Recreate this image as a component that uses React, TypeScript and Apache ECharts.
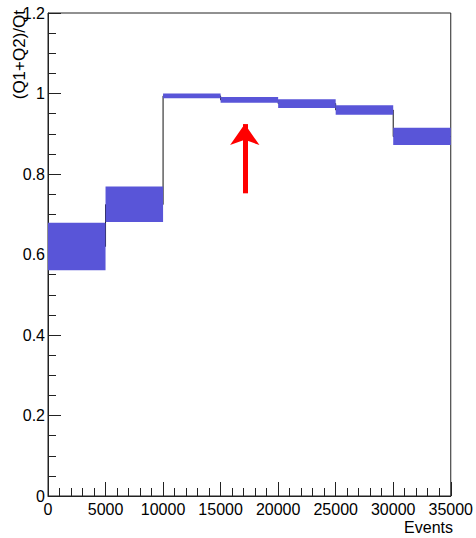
import React, { useEffect, useRef } from "react";
import * as echarts from "echarts";

// Histogram segments (Events)
const segStarts = [0, 5000, 10000, 15000, 20000, 25000, 30000];
const segEnds = [5000, 10000, 15000, 20000, 25000, 30000, 35000];
// Spread of the blue band (error bars) per segment
const bandLow = [0.561, 0.681, 0.988, 0.977, 0.964, 0.947, 0.872];
const bandHigh = [0.679, 0.769, 1.0, 0.991, 0.986, 0.971, 0.915];
// Mean value of (Q1+Q2)/Qt per segment (black histogram line)
const meanValue = [0.62, 0.724, 0.994, 0.984, 0.975, 0.959, 0.893];

// Axis ranges
const xMin = 0;
const xMax = 35000;
const xStep = 5000;
const yMin = 0;
const yMax = 1.2;
const yStep = 0.2;

// Red arrow annotation (data coordinates)
const arrowX = 17100;
const arrowFrom = 0.752;
const arrowTo = 0.924;

const FONT = "'Liberation Sans', Arial, Helvetica, sans-serif";
const BAND_COLOR = "#5955d8";
const AXIS_COLOR = "#222";

export default function App() {
  const ref = useRef<HTMLDivElement>(null);

  useEffect(() => {
    if (!ref.current) return;
    const chart = echarts.init(ref.current, undefined, { renderer: "svg" });

    const bandData = segStarts.map((s, i) => [s, segEnds[i], bandLow[i], bandHigh[i]]);
    const stepData: number[][] = [];
    segStarts.forEach((s, i) => {
      stepData.push([s, meanValue[i]]);
      stepData.push([segEnds[i], meanValue[i]]);
    });

    chart.setOption({
      animation: false,
      grid: {
        left: 48,
        right: 23,
        top: 13,
        bottom: 42,
        show: true,
        borderColor: AXIS_COLOR,
        borderWidth: 1,
        backgroundColor: "transparent",
      },
      xAxis: {
        type: "value",
        min: xMin,
        max: xMax,
        interval: xStep,
        axisLine: { show: true, onZero: false, lineStyle: { color: AXIS_COLOR, width: 1 } },
        axisTick: { show: true, inside: true, length: 14, lineStyle: { color: AXIS_COLOR } },
        minorTick: { show: true, splitNumber: 5, length: 8, lineStyle: { color: AXIS_COLOR } },
        splitLine: { show: false },
        minorSplitLine: { show: false },
        axisLabel: {
          color: "#000",
          fontSize: 16,
          fontFamily: FONT,
          margin: 5,
          formatter: (v: number) => String(v),
        },
      },
      yAxis: {
        type: "value",
        min: yMin,
        max: yMax,
        interval: yStep,
        axisLine: { show: true, lineStyle: { color: AXIS_COLOR, width: 1 } },
        axisTick: { show: true, inside: true, length: 13, lineStyle: { color: AXIS_COLOR } },
        minorTick: { show: true, splitNumber: 4, length: 8, lineStyle: { color: AXIS_COLOR } },
        splitLine: { show: false },
        minorSplitLine: { show: false },
        axisLabel: {
          color: "#000",
          fontSize: 16,
          fontFamily: FONT,
          margin: 3,
          formatter: (v: number) => String(+v.toFixed(1)),
        },
      },
      graphic: [
        {
          type: "text",
          rotation: Math.PI / 2,
          style: {
            text: "(Q1+Q2)/Qt",
            fontSize: 17,
            fontFamily: FONT,
            fill: "#000",
            align: "right",
            verticalAlign: "top",
          },
          x: 11,
          y: 10,
        },
        {
          type: "text",
          right: 23,
          top: 519,
          style: {
            text: "Events",
            fontSize: 16,
            fontFamily: FONT,
            fill: "#000",
          },
        },
      ],
      series: [
        {
          type: "line",
          data: stepData,
          showSymbol: false,
          symbol: "none",
          z: 1,
          lineStyle: { color: "#111", width: 1 },
          silent: true,
          markLine: {
            silent: true,
            symbol: ["none", "arrow"],
            symbolSize: [22, 21],
            label: { show: false },
            lineStyle: { color: "#ff0000", width: 5, type: "solid" },
            emphasis: { disabled: true },
            data: [[{ coord: [arrowX, arrowFrom] }, { coord: [arrowX, arrowTo] }]],
          },
        },
        {
          type: "custom",
          z: 2,
          silent: true,
          data: bandData,
          encode: { x: [0, 1], y: [2, 3] },
          renderItem: (params: any, api: any) => {
            const p0 = api.coord([api.value(0), api.value(3)]);
            const p1 = api.coord([api.value(1), api.value(2)]);
            return {
              type: "rect",
              shape: { x: p0[0], y: p0[1], width: p1[0] - p0[0], height: p1[1] - p0[1] },
              style: { fill: BAND_COLOR },
            };
          },
        },
      ],
    });

    return () => chart.dispose();
  }, []);

  return (
    <div
      ref={ref}
      style={{ position: "fixed", left: 0, top: 0, width: 476, height: 538, background: "#fff" }}
    />
  );
}
